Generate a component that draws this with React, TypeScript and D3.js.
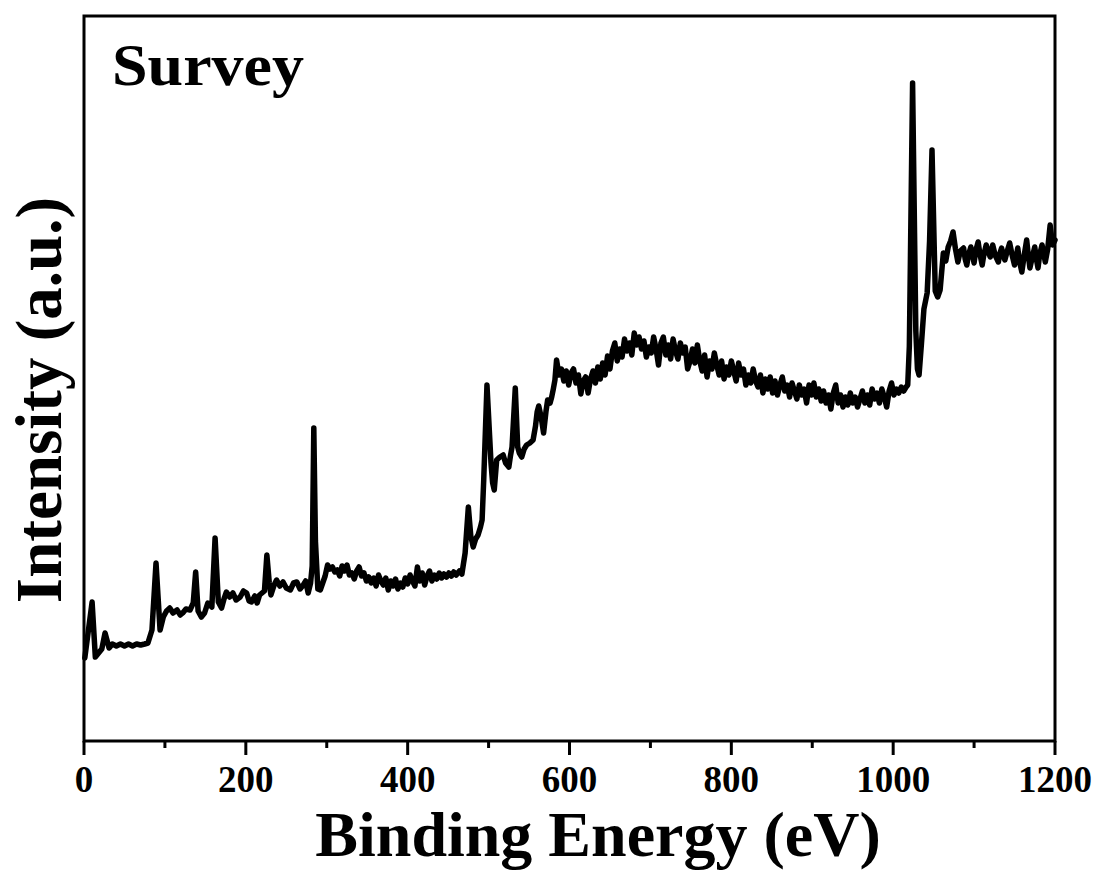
import React from 'react';
import * as d3 from 'd3';

// XPS survey spectrum: [binding energy (eV), intensity (a.u.)]
const survey: [number, number][] = [
  [1, 83], [10, 139], [14, 84], [17, 87], [22, 92], [26, 108], [31, 93], [35, 97], [40, 95], [45, 97],
  [50, 95], [55, 97], [60, 95], [65, 97], [70, 96], [75, 97], [79, 98], [84, 111], [89, 178], [94, 111],
  [98, 124], [102, 130], [106, 133], [110, 128], [115, 131], [119, 126], [122, 128], [126, 132], [131, 131], [135, 138],
  [138, 169], [141, 130], [145, 124], [149, 128], [153, 138], [158, 134], [162, 203], [166, 139], [170, 133], [173, 142],
  [176, 149], [180, 144], [184, 148], [188, 141], [193, 144], [197, 150], [201, 148], [204, 140], [207, 139], [211, 145],
  [214, 138], [217, 146], [220, 148], [223, 150], [226, 186], [229, 158], [231, 146], [235, 156], [238, 161], [242, 155],
  [246, 159], [250, 153], [255, 151], [259, 158], [263, 159], [267, 152], [271, 156], [274, 160], [277, 148], [280, 158],
  [282, 175], [284, 313], [286, 200], [289, 152], [292, 151], [295, 158], [298, 165], [301, 176], [304, 172], [307, 174],
  [310, 169], [313, 171], [316, 165], [319, 175], [322, 170], [325, 176], [328, 166], [331, 168], [334, 162], [337, 170],
  [340, 174], [343, 165], [346, 168], [349, 160], [352, 164], [355, 158], [358, 163], [361, 155], [364, 166], [367, 160],
  [370, 156], [373, 163], [376, 151], [379, 160], [382, 155], [385, 162], [388, 152], [391, 158], [394, 154], [397, 163],
  [400, 157], [403, 166], [406, 160], [409, 155], [412, 174], [415, 160], [418, 168], [421, 156], [424, 165], [427, 170],
  [430, 160], [433, 166], [436, 162], [439, 168], [442, 163], [445, 167], [448, 164], [451, 168], [454, 165], [457, 169],
  [460, 166], [464, 170], [467, 167], [471, 188], [475, 234], [478, 205], [481, 194], [484, 202], [487, 206], [490, 214],
  [492, 221], [494, 261], [498, 356], [503, 278], [505, 258], [507, 251], [510, 281], [514, 284], [518, 286], [521, 278],
  [525, 274], [527, 285], [529, 294], [533, 353], [536, 294], [538, 288], [541, 284], [544, 292], [547, 296], [551, 298],
  [555, 301], [558, 315], [560, 329], [562, 335], [565, 324], [568, 308], [571, 330], [573, 341], [576, 338], [578, 344],
  [580, 352], [582, 361], [584, 381], [587, 366], [590, 372], [593, 360], [596, 370], [599, 356], [602, 368], [605, 372],
  [608, 358], [611, 366], [614, 347], [617, 360], [620, 364], [623, 348], [626, 362], [629, 370], [632, 358], [635, 374],
  [638, 362], [641, 378], [644, 366], [647, 385], [650, 372], [653, 390], [656, 398], [659, 380], [662, 392], [665, 384],
  [668, 402], [671, 390], [674, 398], [677, 386], [680, 408], [683, 396], [686, 404], [689, 392], [692, 400], [695, 384],
  [698, 394], [701, 388], [704, 404], [707, 392], [710, 376], [713, 398], [716, 404], [719, 386], [722, 396], [725, 382],
  [728, 402], [731, 390], [734, 382], [737, 398], [740, 388], [743, 394], [746, 372], [749, 380], [752, 392], [755, 378],
  [758, 396], [761, 380], [764, 370], [767, 386], [770, 364], [773, 380], [776, 372], [779, 388], [782, 376], [785, 366],
  [788, 380], [791, 362], [794, 374], [797, 366], [800, 380], [803, 370], [806, 360], [809, 378], [812, 366], [815, 372],
  [818, 356], [821, 366], [824, 358], [827, 372], [830, 360], [833, 354], [836, 366], [839, 348], [842, 362], [845, 352],
  [848, 364], [851, 348], [854, 360], [857, 346], [860, 356], [863, 364], [866, 350], [869, 356], [872, 344], [875, 358],
  [878, 350], [881, 342], [884, 356], [887, 346], [890, 352], [893, 338], [896, 356], [899, 346], [902, 358], [905, 344],
  [908, 352], [911, 340], [914, 350], [917, 338], [920, 346], [923, 332], [926, 348], [929, 356], [932, 338], [935, 346],
  [938, 334], [941, 344], [944, 336], [947, 348], [950, 338], [953, 344], [956, 334], [959, 342], [962, 350], [965, 338],
  [968, 346], [971, 336], [974, 352], [977, 342], [980, 348], [983, 338], [986, 352], [989, 344], [992, 334], [995, 350],
  [998, 358], [1001, 346], [1004, 352], [1007, 348], [1010, 354], [1013, 350], [1016, 354], [1018, 356], [1020, 395], [1024, 658],
  [1028, 410], [1030, 372], [1032, 366], [1035, 398], [1038, 432], [1042, 448], [1045, 500], [1048, 591], [1052, 450], [1055, 444],
  [1058, 451], [1062, 488], [1065, 480], [1068, 494], [1071, 500], [1074, 509], [1077, 492], [1080, 479], [1083, 490], [1087, 493],
  [1089, 482], [1091, 476], [1093, 486], [1096, 494], [1098, 486], [1100, 478], [1102, 490], [1105, 499], [1107, 488], [1110, 476],
  [1112, 486], [1115, 496], [1117, 490], [1120, 484], [1123, 496], [1126, 486], [1130, 479], [1132, 488], [1134, 493], [1136, 486],
  [1138, 481], [1141, 490], [1144, 498], [1147, 486], [1150, 476], [1152, 484], [1154, 493], [1156, 480], [1159, 469], [1162, 486],
  [1165, 501], [1167, 486], [1169, 473], [1172, 484], [1175, 494], [1177, 482], [1179, 473], [1181, 486], [1184, 496], [1186, 488],
  [1188, 479], [1191, 492], [1194, 516], [1197, 496], [1200, 501],
];

const majorTicks = [0, 200, 400, 600, 800, 1000, 1200];
const minorTicks = [100, 300, 500, 700, 900, 1100];

const W = 1100;
const H = 872;
const margin = { top: 16, right: 45, bottom: 131, left: 84 };
const font = '"Liberation Serif", "Times New Roman", serif';

export default function App() {
  const x = d3.scaleLinear().domain([0, 1200]).range([margin.left, W - margin.right]);
  const y = d3.scaleLinear().domain([0, 725]).range([H - margin.bottom, margin.top]);

  const line = d3
    .line<[number, number]>()
    .x((d) => x(d[0]))
    .y((d) => y(d[1]));

  const x0 = margin.left;
  const x1 = W - margin.right;
  const y0 = margin.top;
  const y1 = H - margin.bottom;

  return (
    <div style={{ position: 'absolute', left: 0, top: 0 }}>
      <svg width={W} height={H} style={{ display: 'block', background: '#fff' }}>
        {/* spectrum */}
        <path
          d={line(survey) || ''}
          fill="none"
          stroke="#000"
          strokeWidth={5.5}
          strokeLinejoin="round"
          strokeLinecap="round"
        />

        {/* frame */}
        <rect x={x0} y={y0} width={x1 - x0} height={y1 - y0} fill="none" stroke="#000" strokeWidth={3} />

        {/* x ticks */}
        {majorTicks.map((t) => (
          <line key={'M' + t} x1={x(t)} x2={x(t)} y1={y1} y2={y1 + 14} stroke="#000" strokeWidth={3} />
        ))}
        {minorTicks.map((t) => (
          <line key={'m' + t} x1={x(t)} x2={x(t)} y1={y1} y2={y1 + 7} stroke="#000" strokeWidth={3} />
        ))}
        {majorTicks.map((t) => (
          <text
            key={'l' + t}
            x={x(t)}
            y={792}
            textAnchor="middle"
            fontFamily={font}
            fontWeight="bold"
            fontSize={37}
            fill="#000"
          >
            {t}
          </text>
        ))}

        {/* axis titles */}
        <text
          x={598}
          y={856}
          textAnchor="middle"
          fontFamily={font}
          fontWeight="bold"
          fontSize={64}
          fill="#000"
        >
          Binding Energy (eV)
        </text>
        <text
          transform="translate(61, 400) rotate(-90)"
          textAnchor="middle"
          fontFamily={font}
          fontWeight="bold"
          fontSize={65}
          fill="#000"
        >
          Intensity (a.u.)
        </text>

        {/* panel label */}
        <text
          x={112}
          y={85}
          fontFamily={font}
          fontWeight="bold"
          fontSize={60}
          textLength={192}
          lengthAdjust="spacingAndGlyphs"
          fill="#000"
        >
          Survey
        </text>
      </svg>
    </div>
  );
}
